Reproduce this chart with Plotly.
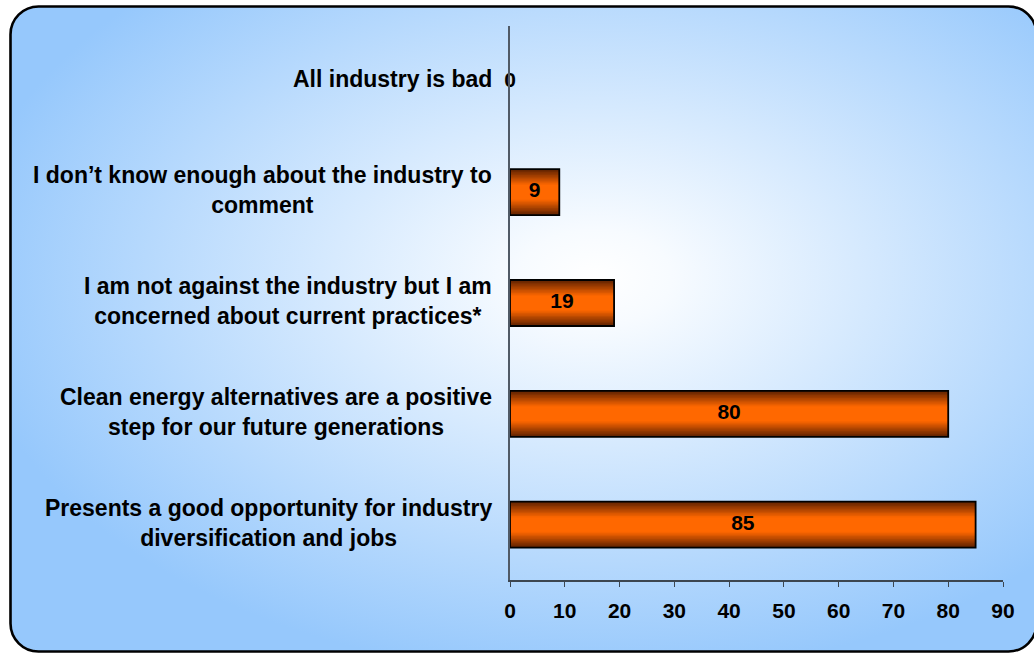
import base64
import plotly.graph_objects as go

# ---- data ----
categories = [
    "All industry is bad",
    "I don\u2019t know enough about the industry to<br>comment",
    "I am not against the industry but I am<br>concerned about current practices*",
    "Clean energy alternatives are a positive<br>step for our future generations",
    "Presents a good opportunity for industry<br>diversification and jobs",
]
values = [0, 9, 19, 80, 85]
x_ticks = [0, 10, 20, 30, 40, 50, 60, 70, 80, 90]

FONT = "Liberation Sans, Arial, sans-serif"
W, H = 1034, 656
ML, MR, MT, MB = 510, 31, 26, 76
PW, PH = W - ML - MR, H - MT - MB

fig = go.Figure()

# bar with simulated vertical gradient (stacked overlay layers)
BAR_W = 0.415
N = 16
dark = (100, 36, 0)
orange = (255, 104, 0)
for k in range(N):
    t = k / (N - 1)
    f = min(1.0, t / 0.7)
    c = tuple(int(dark[i] + (orange[i] - dark[i]) * f) for i in range(3))
    fig.add_trace(go.Bar(
        x=values, y=categories, orientation="h",
        width=BAR_W * (1 - k / N),
        marker=dict(color="rgb(%d,%d,%d)" % c, line=dict(width=0)),
        hoverinfo="skip", showlegend=False,
    ))
# outline (none for zero-length bars)
fig.add_trace(go.Bar(
    x=values, y=categories, orientation="h", width=BAR_W,
    marker=dict(color="rgba(0,0,0,0)",
                line=dict(color="#000000", width=[1.8 if v else 0 for v in values])),
    hoverinfo="skip", showlegend=False,
))
# value labels at bar centres
fig.add_trace(go.Scatter(
    x=[v / 2 for v in values], y=categories, mode="text",
    text=[str(v) for v in values],
    textfont=dict(family=FONT, size=21, color="#000000", weight="bold"),
    cliponaxis=False, hoverinfo="skip", showlegend=False,
))

# category labels (centered multi-line blocks, right edge near the axis)
for cat in categories:
    fig.add_annotation(
        x=-16 / PW, xref="paper", y=cat, yref="y", yshift=2,
        text=cat, showarrow=False, xanchor="right", yanchor="middle",
        align="center",
        font=dict(family=FONT, size=23, color="#000000", weight="bold"),
    )

# background: rounded rectangle with radial gradient
rx0, ry0, rx1, ry1 = 9, 5, 1038, 653
rw, rh = rx1 - rx0, ry1 - ry0
svg = (
    '<svg xmlns="http://www.w3.org/2000/svg" width="%d" height="%d" viewBox="0 0 %d %d">'
    '<defs><radialGradient id="g" cx="0.57" cy="0.42" r="0.62">'
    '<stop offset="0" stop-color="#ffffff"/>'
    '<stop offset="0.12" stop-color="#f7fbff"/>'
    '<stop offset="1" stop-color="#96c8fc"/>'
    '</radialGradient></defs>'
    '<rect x="1.5" y="1.5" width="%d" height="%d" rx="28" ry="28" fill="url(#g)" '
    'stroke="#000000" stroke-width="2.6"/></svg>'
) % (rw, rh, rw, rh, rw - 3, rh - 3)
src = "data:image/svg+xml;base64," + base64.b64encode(svg.encode()).decode()
fig.add_layout_image(
    source=src, xref="paper", yref="paper",
    x=(rx0 - ML) / PW, y=(H - MB - ry0) / PH,
    sizex=rw / PW, sizey=rh / PH,
    xanchor="left", yanchor="top", sizing="stretch", layer="below",
)

fig.update_layout(
    width=W, height=H,
    margin=dict(l=ML, r=MR, t=MT, b=MB, pad=0),
    paper_bgcolor="#ffffff", plot_bgcolor="rgba(0,0,0,0)",
    barmode="overlay", showlegend=False,
    font=dict(family=FONT, color="#000000"),
    xaxis=dict(
        range=[0, 90], tickvals=x_ticks, ticktext=[str(v) for v in x_ticks],
        showgrid=False, zeroline=False,
        showline=True, linecolor="#3c4650", linewidth=1.5,
        ticks="outside", ticklen=5, tickcolor="#3c4650", tickwidth=1.2,
        tickfont=dict(family=FONT, size=21, color="#000000", weight="bold"),
        ticklabelstandoff=6, fixedrange=True,
    ),
    yaxis=dict(
        categoryorder="array", categoryarray=categories, autorange="reversed",
        showgrid=False, zeroline=False, showticklabels=False, ticks="",
        showline=True, linecolor="#505a66", linewidth=2, fixedrange=True,
    ),
)

fig.write_html(
    "out.html",
    config={"displayModeBar": False},
    post_script="document.body.style.margin='0';document.body.style.overflow='hidden';",
)
